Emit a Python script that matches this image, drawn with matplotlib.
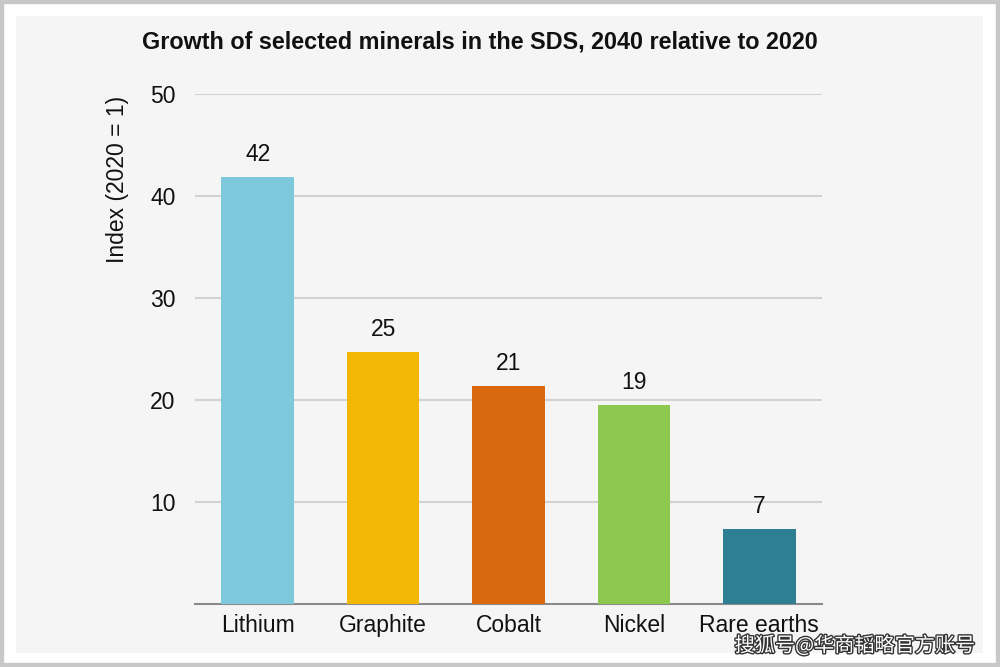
import matplotlib
matplotlib.use("Agg")
import matplotlib.pyplot as plt
import matplotlib.patheffects as pe
from matplotlib.patches import Rectangle

categories = ["Lithium", "Graphite", "Cobalt", "Nickel", "Rare earths"]
values = [41.9, 24.7, 21.4, 19.5, 7.4]
labels = ["42", "25", "21", "19", "7"]
colors = ["#7ec8dc", "#f2b705", "#d9680f", "#8dc84f", "#2e7f94"]
yticks = [10, 20, 30, 40, 50]

plt.rcParams['font.family'] = ['Liberation Sans', 'DejaVu Sans']
FS = 16.5

fig = plt.figure(figsize=(10, 6.67), dpi=100)
fig.patch.set_facecolor("white")
# outer grey frame and inner light panel
fig.patches.append(Rectangle((0, 0), 1, 1, transform=fig.transFigure,
                             facecolor="none", edgecolor="#c8c8c8", linewidth=6, zorder=-2))
fig.patches.append(Rectangle((16/1000, 1-653/667), (983-16)/1000, (653-16)/667,
                             transform=fig.transFigure, facecolor="#f5f5f5",
                             edgecolor="none", zorder=-1))

ax = fig.add_axes([195/1000, 1-604/667, (822-195)/1000, (604-94)/667])
ax.set_zorder(2)
ax.set_facecolor("none")
x = list(range(len(categories)))
ax.bar(x, values, width=0.58, color=colors, zorder=3)
for xi, v, lab in zip(x, values, labels):
    ax.annotate(lab, (xi, v), xytext=(0, 16), textcoords="offset points",
                ha="center", va="center", fontsize=FS, color="#111111")

ax.set_xlim(-0.5, 4.5)
ax.set_ylim(0, 50)
ax.set_yticks(yticks)
ax.set_yticklabels([str(t) for t in yticks], fontsize=FS, color="#111111")
ax.set_xticks(x)
ax.set_xticklabels(categories, fontsize=FS, color="#111111")
ax.tick_params(axis="both", length=0)
ax.tick_params(axis="y", pad=14)
ax.tick_params(axis="x", pad=7)
ax.yaxis.grid(True, color="#d2d2d2", linewidth=1.5, zorder=0)
for s in ["top", "right", "left"]:
    ax.spines[s].set_visible(False)
ax.spines["bottom"].set_color("#8a8a8a")
ax.spines["bottom"].set_linewidth(1.5)
ax.set_ylabel("Index (2020 = 1)", fontsize=FS, color="#111111")
ax.yaxis.set_label_coords(-0.105, 0.833)

fig.text(480/1000, 1-42/667, "Growth of selected minerals in the SDS, 2040 relative to 2020",
         ha="center", va="center", fontsize=16.8, fontweight="bold", color="#111111", zorder=3)

wm = fig.text(975/1000, 1-646/667, "搜狐号@华商韬略官方账号", ha="right", va="center",
              fontsize=14.5, color="white", family=["Noto Sans CJK SC", "DejaVu Sans"], zorder=3)
wm.set_path_effects([pe.withStroke(linewidth=2, foreground="#333333")])

fig.savefig("out.png", dpi=100)
